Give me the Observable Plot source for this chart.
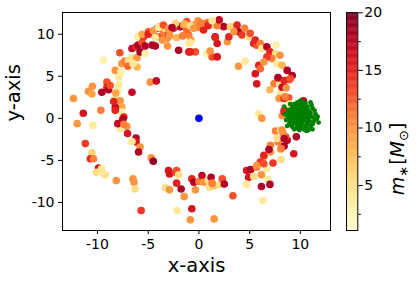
<!DOCTYPE html>
<html><head><meta charset="utf-8">
<script src="https://cdn.jsdelivr.net/npm/d3@7"></script>
<script src="https://cdn.jsdelivr.net/npm/@observablehq/plot@0.6"></script>
<style>
body{margin:0;background:#fff}
#c{position:relative;width:416px;height:282px;overflow:hidden}
#c svg{position:absolute;top:0}
</style>
</head><body><div id="c"></div>
<script>
// ring stars: x, y, mass
const xs = [-12.37,-11.4,-9.67,-10.9,-10.5,-10.55,-9.4,-9.07,-9.07,-9.57,-8.9,-8.75,-8.25,-7.9,-7.7,-8.25,-8.0,-7.9,-8.2,-7.76,-7.6,-7.6,-8.25,-8.4,-7.6,-7.3,-6.94,-6.6,-6.1,-6.1,-6.6,-6.2,-5.8,-6.0,-5.3,-6.05,-5.6,-5.45,-4.97,-4.6,-4.3,-4.1,-3.8,-3.5,-3.3,-3.15,-3.0,-2.8,-2.5,-2.15,-2.0,-1.85,-1.5,-1.0,-1.0,-1.0,-0.35,-0.6,-0.2,-4.8,-4.2,-6.6,-7.8,-2.3,-1.2,-3.8,-4.5,-7.0,-6.5,-7.55,
-0.5,0.46,0.0,0.46,1.45,2.44,3.1,1.8,3.76,3.9,4.5,1.6,1.8,2.8,2.95,3.45,4.25,4.9,5.05,5.4,5.7,5.55,6.05,6.2,6.7,7.0,7.6,7.55,7.2,7.7,8.0,8.2,6.7,5.9,6.05,5.55,4.55,3.9,5.7,7.4,7.95,7.0,7.8,8.7,9.2,8.9,8.5,8.05,7.9,8.4,8.85,9.0,10.3,-0.85,0.8,1.3,1.8,5.9,6.2,6.4,7.8,8.4,8.2,8.6,8.5,8.4,8.2,9.0,-0.1,0.9,-1.2,2.0,
-12.0,-10.45,-11.2,-10.55,-10.7,-10.4,-9.9,-9.6,-10.1,-9.24,-9.5,-8.15,-6.5,-6.4,-6.3,-5.7,-8.25,-7.4,-7.5,-7.76,-8.0,-7.1,-7.4,-7.04,-6.2,-6.2,-6.6,-5.8,-5.95,-4.7,-4.5,-3.0,-2.9,-2.3,-2.2,-2.0,-2.2,-1.75,-3.3,-2.9,-1.45,-2.15,-0.85,-0.7,-0.7,-0.5,-0.35,0.0,
0.3,0.46,0.95,1.2,1.05,1.45,1.3,2.05,2.3,2.5,3.35,1.5,4.7,5.1,4.9,4.7,5.4,5.7,6.16,6.65,6.8,6.16,7.0,6.3,6.4,6.4,6.05,7.3,8.1,7.05,7.05,6.9,7.8,8.05,8.4,8.7,8.55,9.35,9.6,7.55,8.05,8.3,8.4,8.2,7.7,8.4,8.1,5.7,6.4,
-5.6,-5.0,-4.5,-4.0,-3.5,-3.0,-2.65,-1.4,-0.85,-0.5,0.2,0.9,1.3,-4.3,-3.6,-2.9,-2.2,-1.6,-0.8,-5.3,-4.3,-3.1,-0.85,1.1,1.6];
const ys = [2.35,0.6,0.95,3.2,3.8,2.9,6.9,4.3,3.7,3.1,3.4,3.9,5.7,4.9,5.5,2.35,3.3,4.0,3.0,2.1,1.35,0.75,1.35,2.0,6.5,6.8,6.9,7.2,6.1,7.2,8.3,8.5,7.9,8.7,7.7,9.7,9.0,9.7,10.3,8.7,9.7,10.7,9.7,10.3,10.7,9.5,9.9,10.5,10.7,11.1,8.1,10.9,11.1,8.9,9.9,7.9,7.9,11.0,10.9,4.3,4.45,3.1,7.8,11.3,10.5,10.9,10.0,6.2,6.5,0.0,
11.1,11.3,10.8,10.5,11.1,10.9,10.9,11.0,11.1,10.3,10.7,9.7,8.9,9.1,9.7,10.3,9.9,9.7,10.1,8.9,8.7,9.3,8.9,8.3,8.5,7.9,8.7,7.7,7.1,6.5,7.5,6.3,7.3,6.3,5.9,5.3,6.8,6.2,4.1,4.1,4.1,3.4,4.8,5.7,5.1,4.6,3.7,3.0,2.35,2.35,2.45,1.7,2.1,7.9,7.7,7.3,7.3,0.55,0.0,6.7,4.85,4.5,3.7,3.6,2.55,0.95,0.3,4.7,11.6,11.4,11.5,11.7,
-0.63,-0.83,-3.0,-4.1,-4.8,-4.8,-5.9,-6.0,-6.4,-6.7,-6.4,-7.4,-7.2,-7.6,-8.4,-10.95,0.95,0.15,-0.1,-1.2,-0.63,-0.95,-0.7,-1.8,-2.35,-2.8,-2.75,-3.4,-4.0,-4.7,-5.1,-6.2,-6.6,-6.4,-6.2,-6.7,-7.7,-8.4,-8.25,-8.5,-9.3,-10.95,-12.06,-10.75,-7.2,-7.6,-8.5,-7.5,
-6.8,-7.6,-7.4,-7.0,-8.2,-8.0,-7.7,-7.9,-7.2,-7.8,-9.2,-11.95,-6.2,-6.1,-7.0,-7.85,-6.9,-5.8,-6.7,-6.0,-7.3,-8.1,-7.85,-9.76,-4.6,-4.4,-5.2,-5.3,-4.9,-4.0,-3.2,-3.7,-2.8,-3.7,-3.3,-2.6,-2.2,-4.2,-2.2,-1.5,-1.4,-1.8,0.75,-1.4,-2.4,-2.4,-3.6,-5.6,-5.4,
10.0,10.0,10.4,10.8,11.1,10.6,10.8,11.2,11.0,10.7,11.3,11.0,11.6,9.6,9.3,9.8,9.6,9.8,9.3,8.6,8.6,8.6,9.0,8.0,9.6];
const ms = [10,16,11,10,10,9,3,13,15,18,18,13,10,4,3,4,3,4,9,10,9,3,17,15,10,11,5,5,8,10,17,15,19,18,3,3,13,14,13,18,15,16,13,11,3,10,14,11,15,4,18,18,10,3,11,15,13,10,4,10,17,17,13,6,12,9,12,12,4,5,
10,8,11,15,5,18,6,11,15,18,11,18,16,10,15,10,14,5,13,15,13,15,11,4,18,15,3,5,11,4,10,8,14,15,12,16,4,10,16,11,4,8,15,18,18,13,15,4,10,15,13,4,18,15,3,13,16,4,10,10,18,15,17,10,11,15,10,13,10,12,13,17,
10,4,14,6,15,11,16,4,5,5,4,10,10,10,5,14,15,15,18,4,17,10,11,16,18,16,4,10,18,10,19,16,16,14,13,5,15,18,5,10,10,4,10,16,15,18,10,11,
17,10,5,18,5,7,11,5,13,18,13,10,16,18,16,4,5,11,10,4,4,18,18,4,10,15,14,14,5,10,11,18,11,4,18,18,13,16,18,11,5,10,15,10,5,18,11,10,13,
9,15,10,4,13,10,18,8,5,10,11,15,4,4,10,10,8,11,10,18,18,10,4,10,15];
// companion cluster (green)
const gx = [10.0,9.7,10.3,9.5,10.6,9.9,10.2,9.3,10.8,9.6,10.4,9.1,10.9,9.8,10.5,9.4,11.1,8.9,10.1,9.2,10.7,9.0,11.3,10.0,9.6,11.0,8.7,11.5,9.9,10.5,9.4,8.8,11.2,10.3,9.2,11.6,8.6,10.8,9.7,10.1,9.5,10.5,9.8,10.2,9.6,10.4,9.9,10.0,10.6,9.3,10.9,9.1,10.7,9.5,10.3,9.7,10.1,9.0,11.0,9.8,10.4,9.2,10.8,11.4,8.9,11.2,10.6,9.4,9.9,10.2,9.6,11.7,8.5,11.8,8.4,10.0,11.2,11.1,9.0,8.7,10.9,9.3,10.1,9.6,10.5,10.0,9.4,10.7,9.1,10.3,11.4,9.7,10.6,8.8,11.0];
const gy = [0.2,0.5,0.0,-0.1,0.4,0.9,-0.5,0.6,-0.2,1.2,1.1,0.1,0.8,-0.7,-0.9,-0.6,0.2,0.7,1.5,1.3,1.4,-0.4,-0.4,-1.1,-1.2,-0.9,0.3,0.5,1.8,1.8,1.7,1.0,1.2,-1.3,-1.0,-0.1,-0.2,-1.4,0.0,0.6,0.3,0.1,0.4,0.3,-0.4,-0.3,-0.2,1.1,0.9,0.9,0.3,0.4,-0.6,0.8,0.7,-0.9,-0.8,1.0,0.6,1.4,1.5,-0.3,0.1,0.9,-0.7,-0.7,-1.1,-1.3,-1.4,1.9,1.6,0.2,0.5,-0.5,1.4,2.1,-1.3,1.6,1.7,-0.9,-0.3,0.0,0.0,0.7,0.6,-0.4,0.3,1.1,-0.8,1.3,0.0,1.9,-1.5,-0.1,1.9];
// central object (blue)
const bx = [0];
const by = [0];
// ticks
const xTicks = [-10,-5,0,5,10];
const yTicks = [-10,-5,0,5,10];
const cTicks = [5,10,15,20];
const cMinor = [2.5,7.5,12.5,17.5];
const mMin = 1.1, mMax = 20;

const ring = xs.map((x,i)=>({x, y: ys[i], m: ms[i]}));
const green = gx.map((x,i)=>({x, y: gy[i]}));
const blue = bx.map((x,i)=>({x, y: by[i]}));

const font = "DejaVu Sans";
const colorOpt = {type:"linear", scheme:"YlOrRd", domain:[mMin, mMax]};

const main = Plot.plot({
  width: 416, height: 282,
  marginLeft: 62, marginRight: 86, marginTop: 12, marginBottom: 52,
  style: {fontFamily: font, fontSize: "14px", background: "transparent", color: "#000"},
  x: {domain: [-13.45, 12.97]},
  y: {domain: [-13.33, 12.58]},
  color: colorOpt,
  marks: [
    Plot.dot(ring, {x:"x", y:"y", fill:"m", r:3.8}),
    Plot.dot(green, {x:"x", y:"y", fill:"green", r:2.4}),
    Plot.dot(blue, {x:"x", y:"y", fill:"blue", r:3.8}),
    Plot.frame({stroke:"#000", strokeWidth:1}),
    Plot.axisX({ticks: xTicks, tickSize: 4, tickPadding: 5, tickFormat: d => `${d}`, label: null, fontSize: 14}),
    Plot.axisY({ticks: yTicks, tickSize: 4, tickPadding: 4, tickFormat: d => `${d}`, label: null, fontSize: 14}),
    Plot.text(["x-axis"], {frameAnchor: "bottom", dy: 41, lineAnchor: "bottom", fontSize: 19.5, fill: "#000"}),
    Plot.text(["y-axis"], {frameAnchor: "left", dx: -43, lineAnchor: "bottom", rotate: -90, fontSize: 19.5, fill: "#000"})
  ]
});
main.style.left = "0px";
document.getElementById("c").appendChild(main);

const step = 0.1;
const stops = d3.range(mMin, mMax, step);
const cbar = Plot.plot({
  width: 70, height: 282,
  marginLeft: 0, marginRight: 58.7, marginTop: 12.3, marginBottom: 52,
  style: {fontFamily: font, fontSize: "14px", background: "transparent", color: "#000"},
  x: {domain: [0,1], axis: null},
  y: {domain: [mMin, mMax]},
  color: colorOpt,
  marks: [
    Plot.rect(stops, {x1: 0, x2: 1, y1: d => d, y2: d => Math.min(d + step*1.05, mMax), fill: d => d + step/2, stroke: d => d + step/2, strokeWidth: 0.3}),
    Plot.frame({stroke:"#000", strokeWidth:1}),
    Plot.axisY({anchor: "right", ticks: cTicks, tickSize: 4.5, tickPadding: 2, tickFormat: d => `${d}`, label: null, fontSize: 14}),
    Plot.axisY({anchor: "right", ticks: cMinor, tickSize: 2.5, tickFormat: () => "", label: null}),
    Plot.text(["m*[M⊙]"], {frameAnchor: "right", dx: 45.7, dy: 1, lineAnchor: "bottom", rotate: -90, fontSize: 19, fill: "#000"})
  ]
});
cbar.style.left = "346px";
document.getElementById("c").appendChild(cbar);

// math-style label: italic m with subscript *, [ italic M with subscript sun ]
const t = d3.select(cbar).selectAll("text").filter(function(){ return this.textContent === "m*[M⊙]"; });
t.each(function(){
  const el = d3.select(this);
  el.text(null);
  el.append("tspan").attr("font-style","italic").text("m");
  el.append("tspan").attr("font-size","13px").attr("dy","4").text("∗");
  el.append("tspan").attr("dy","-4").attr("dx","1").text("[");
  el.append("tspan").attr("font-style","italic").text("M");
  el.append("tspan").attr("font-size","13px").attr("dy","4").text("⊙");
  el.append("tspan").attr("dy","-4").text("]");
});
</script></body></html>
